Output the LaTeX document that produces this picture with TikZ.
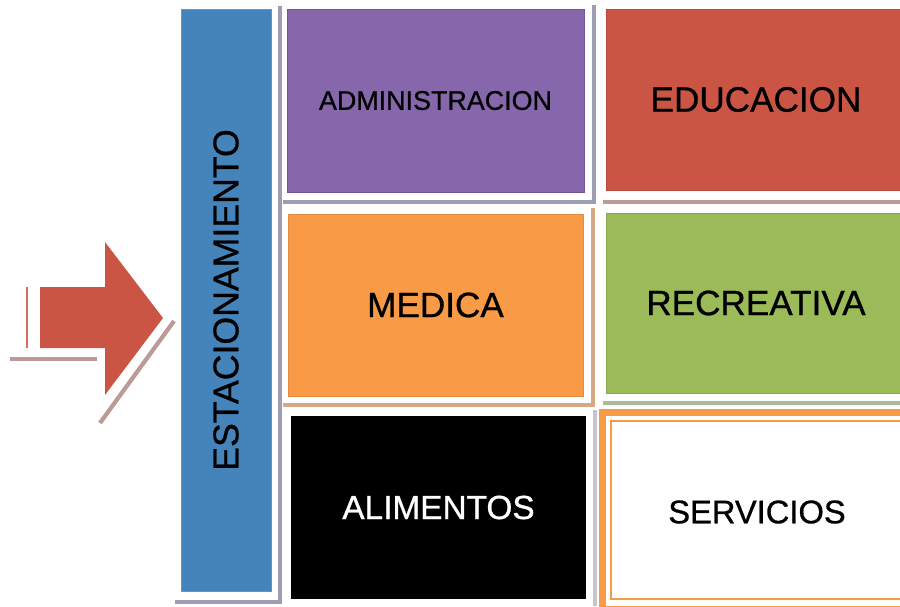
\documentclass[tikz,border=0pt]{standalone}
\usepackage{fontspec}
\setmainfont{Liberation Sans}[FakeBold=0.8]

\definecolor{parkblue}{HTML}{4584BA}
\definecolor{adminpurple}{HTML}{8667AB}
\definecolor{edured}{HTML}{CB5545}
\definecolor{medorange}{HTML}{F99A46}
\definecolor{recgreen}{HTML}{9BBB59}
\definecolor{shgrey}{HTML}{9E9DB2}
\definecolor{shrose}{HTML}{BC9A98}
\definecolor{shtan}{HTML}{D4A985}
\definecolor{shgreen}{HTML}{A9BB98}
\definecolor{shlight}{HTML}{C6C6CA}

\begin{document}
\begin{tikzpicture}[x=0.02cm,y=-0.02cm]
    \tikzset{block/.style = {shape=rectangle,inner sep=0pt,line width=0.5pt,font=\fontsize{20}{24}\selectfont}}
    \tikzset{shline/.style = {line width=2.4pt}}

    \useasboundingbox (0,0) rectangle (900,606);
    \clip (0,0) rectangle (900,606);

    % shadow lines
    \draw[shline,shgrey] (280,6) -- (280,602) -- (175,602);
    \draw[shline,shgrey] (594,5) -- (594,202) -- (283,202);
    \draw[shline,shrose] (603,202) -- (905,202);
    \draw[shline,shtan] (593,208) -- (593,405) -- (283,405);
    \draw[shline,shgreen] (603,403) -- (905,403);
    \draw[shline,shlight] (595,410) -- (595,606);

    % blocks
    \node[block,fill=parkblue,draw=parkblue!85!white,minimum width=1.8cm,minimum height=11.64cm] (park) at (226,300) {};
    \node[rotate=90,font=\fontsize{20.3}{24}\selectfont] (parklabel) at (park.center) {ESTACIONAMIENTO};

    \node[block,fill=adminpurple,draw=adminpurple!85!black,minimum width=5.94cm,minimum height=3.66cm,font=\fontsize{15.3}{18}\selectfont] (admin) at (435.5,100.5) {ADMINISTRACION};
    \node[block,fill=edured,draw=edured!90!black,minimum width=6.0cm,minimum height=3.62cm] (edu) at (756,99.5) {EDUCACION};

    \node[block,fill=medorange,draw=medorange!90!black,minimum width=5.9cm,minimum height=3.64cm] (med) at (435.5,305) {MEDICA};
    \node[block,fill=recgreen,draw=recgreen!90!black,minimum width=6.0cm,minimum height=3.6cm] (rec) at (756,303) {RECREATIVA};

    \node[block,fill=black,text=white,minimum width=5.9cm,minimum height=3.66cm,font=\fontsize{19}{22}\selectfont] (food) at (438.5,507.5) {ALIMENTOS};

    \draw[line width=4pt,medorange] (602.5,412.5) rectangle (910,610);
    \draw[line width=1.2pt,medorange] (611,421) rectangle (910,599);
    \node[block,font=\fontsize{18.6}{22}\selectfont] (serv) at (757,512) {SERVICIOS};

    % entrance arrow
    \fill[edured] (40,287) -- (105,287) -- (105,242) -- (163,318) -- (105,395) -- (105,348) -- (40,348) -- cycle;
    \draw[line width=1.2pt,edured!85!white] (27,287) -- (27,348);
    \draw[shline,shrose] (10,359) -- (97,359);
    \draw[shline,shrose] (174,321) -- (100,423);
\end{tikzpicture}
\end{document}
